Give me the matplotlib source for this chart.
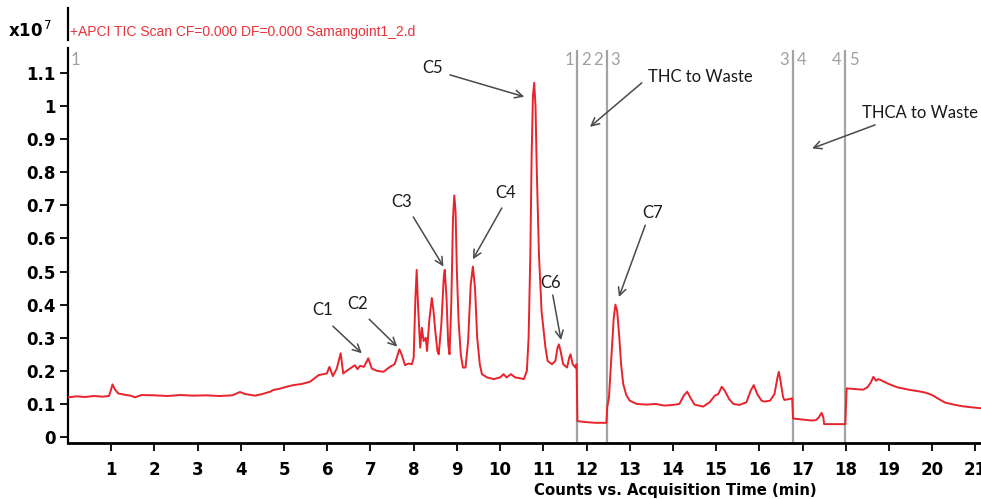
import matplotlib
matplotlib.use("Agg")
import matplotlib.pyplot as plt

# ---- data (time in min, counts in units of 1e7) ----
time = [0.0, 0.2, 0.4, 0.6, 0.8, 0.95, 1.0, 1.03, 1.08, 1.16, 1.3, 1.45, 1.55, 1.7, 2.0, 2.3, 2.6, 2.9,
        3.2, 3.5, 3.8, 3.98, 4.1, 4.33, 4.5, 4.68, 4.75, 4.9, 5.06, 5.22, 5.4, 5.6, 5.8, 5.99, 6.05, 6.13,
        6.22, 6.31, 6.37, 6.45, 6.53, 6.64, 6.7, 6.76, 6.85, 6.95, 7.03, 7.15, 7.3, 7.45, 7.56, 7.67, 7.72,
        7.8, 7.88, 7.96, 8.0, 8.04, 8.07, 8.1, 8.15, 8.19, 8.23, 8.28, 8.31, 8.36, 8.42, 8.46, 8.5, 8.55,
        8.58, 8.64, 8.7, 8.72, 8.76, 8.8, 8.83, 8.87, 8.91, 8.94, 8.97, 9.0, 9.04, 9.09, 9.14, 9.2, 9.26,
        9.32, 9.37, 9.42, 9.47, 9.53, 9.58, 9.7, 9.85, 10.0, 10.08, 10.15, 10.25, 10.35, 10.45, 10.55,
        10.62, 10.66, 10.7, 10.73, 10.76, 10.79, 10.82, 10.85, 10.9, 10.96, 11.0, 11.05, 11.1, 11.2,
        11.28, 11.33, 11.36, 11.4, 11.46, 11.55, 11.6, 11.63, 11.68, 11.74, 11.77,
        11.79, 12.0, 12.2, 12.46,
        12.48, 12.52, 12.58, 12.63, 12.67, 12.71, 12.76, 12.8, 12.85, 12.92, 13.0, 13.16, 13.4, 13.6,
        13.8, 14.0, 14.15, 14.25, 14.33, 14.4, 14.5, 14.7, 14.85, 14.97, 15.05, 15.13, 15.2, 15.3, 15.4,
        15.54, 15.7, 15.8, 15.87, 15.95, 16.05, 16.12, 16.25, 16.35, 16.42, 16.45, 16.49, 16.55, 16.58,
        16.7, 16.76,
        16.78, 17.0, 17.2, 17.31, 17.38, 17.44, 17.48, 17.5, 17.7, 17.99,
        18.02, 18.2, 18.4, 18.5, 18.58, 18.64, 18.7, 18.75, 18.81, 19.0, 19.2, 19.31, 19.5, 19.7, 19.85,
        20.0, 20.15, 20.3, 20.5, 20.7, 20.9, 21.13]
counts = [0.120, 0.123, 0.121, 0.124, 0.122, 0.124, 0.145, 0.159, 0.145, 0.132, 0.128, 0.125, 0.120,
          0.127, 0.126, 0.124, 0.127, 0.125, 0.126, 0.124, 0.126, 0.136, 0.130, 0.125, 0.130, 0.137,
          0.142, 0.146, 0.152, 0.157, 0.160, 0.167, 0.187, 0.192, 0.212, 0.184, 0.207, 0.253, 0.192,
          0.200, 0.207, 0.217, 0.205, 0.215, 0.212, 0.238, 0.207, 0.200, 0.197, 0.212, 0.220, 0.265,
          0.250, 0.217, 0.222, 0.220, 0.240, 0.420, 0.505, 0.400, 0.270, 0.330, 0.290, 0.300, 0.260,
          0.350, 0.420, 0.380, 0.320, 0.260, 0.250, 0.340, 0.490, 0.505, 0.420, 0.280, 0.250, 0.400,
          0.660, 0.730, 0.680, 0.500, 0.350, 0.250, 0.210, 0.210, 0.290, 0.460, 0.515, 0.450, 0.300,
          0.220, 0.190, 0.180, 0.175, 0.180, 0.190, 0.180, 0.190, 0.180, 0.178, 0.175, 0.200, 0.300,
          0.550, 0.850, 1.030, 1.070, 1.000, 0.800, 0.550, 0.380, 0.330, 0.270, 0.230, 0.220, 0.230,
          0.270, 0.280, 0.260, 0.220, 0.210, 0.240, 0.250, 0.220, 0.210, 0.220,
          0.048, 0.045, 0.043, 0.043,
          0.090, 0.120, 0.250, 0.360, 0.400, 0.380, 0.300, 0.220, 0.160, 0.127, 0.110, 0.100, 0.098,
          0.100, 0.095, 0.097, 0.100, 0.125, 0.137, 0.120, 0.098, 0.092, 0.105, 0.125, 0.130, 0.152,
          0.140, 0.115, 0.100, 0.097, 0.105, 0.140, 0.157, 0.130, 0.110, 0.107, 0.110, 0.130, 0.180,
          0.197, 0.170, 0.120, 0.112, 0.115, 0.117,
          0.056, 0.053, 0.050, 0.051, 0.060, 0.073, 0.060, 0.039, 0.039, 0.039,
          0.147, 0.145, 0.143, 0.150, 0.165, 0.182, 0.170, 0.175, 0.172, 0.160, 0.150, 0.147, 0.142,
          0.138, 0.134, 0.127, 0.115, 0.104, 0.098, 0.093, 0.090, 0.087]

segment_times = [11.77, 12.47, 16.77, 17.99]
x_ticks = list(range(1, 22))
y_ticks = [0, 0.1, 0.2, 0.3, 0.4, 0.5, 0.6, 0.7, 0.8, 0.9, 1.0, 1.1]
y_tick_labels = ["0", "0.1", "0.2", "0.3", "0.4", "0.5", "0.6", "0.7", "0.8", "0.9", "1", "1.1"]
title = "+APCI TIC Scan CF=0.000 DF=0.000 Samangoint1_2.d"
x_label = "Counts vs. Acquisition Time (min)"

tick_font = ["DejaVu Sans Condensed", "Liberation Sans Narrow", "DejaVu Sans"]
title_font = ["Liberation Sans", "DejaVu Sans"]
ann_font = "Lato"

fig = plt.figure(figsize=(9.81, 4.99), dpi=100)
ax = fig.add_axes([68 / 981, 1 - 443 / 499, 1 - 68 / 981, (443 - 13) / 499])
ax.set_xlim(0, 21.13)
ax.set_ylim(-0.018, 1.281)

ax.plot(time, counts, color="#e8232b", lw=1.4, zorder=3)
ax.vlines(segment_times, -0.018, 1.169, color="#a3a3a3", lw=1.6, zorder=2)

for s in ["top", "right"]:
    ax.spines[s].set_visible(False)
ax.spines["bottom"].set_linewidth(2.0)
ax.spines["left"].set_linewidth(1.6)
ax.spines["left"].set_bounds(-0.018, 1.175)
ax.plot([0, 0], [1.2, 1.295], color="black", lw=1.6, clip_on=False, transform=ax.transData)

ax.set_xticks(x_ticks)
ax.set_xticklabels([str(v) for v in x_ticks], fontfamily=tick_font, fontweight="bold", fontsize=12)
ax.set_yticks(y_ticks)
ax.set_yticklabels(y_tick_labels, fontfamily=tick_font, fontweight="bold", fontsize=12)
ax.tick_params(axis="both", direction="out", length=6, width=1.3, colors="black")
ax.tick_params(axis="x", pad=7)
ax.tick_params(axis="y", pad=3)

fig.text(675 / 981, 1 - 490 / 499, x_label, ha="center", va="center",
         fontfamily=tick_font, fontweight="bold", fontsize=10.7)
fig.text(8 / 981, 1 - 31 / 499, r"x10$^{\,7}$", ha="left", va="center",
         fontfamily=tick_font, fontweight="bold", fontsize=12)
ax.text(0.05, 1.225, title, ha="left", va="center", color="#e8333a", fontsize=10,
        fontfamily=title_font)

# segment labels
seg_labels = [(0.16, "1"), (11.6, "1"), (11.98, "2"), (12.27, "2"), (12.66, "3"),
              (16.58, "3"), (16.97, "4"), (17.78, "4"), (18.2, "5")]
for xs, lab in seg_labels:
    ax.text(xs, 1.139, lab, ha="center", va="center", color="#a0a0a0", fontsize=12,
            fontfamily=ann_font)

# annotations: (label, text pos, arrow tail, arrow head)
annots = [
    ("C1", (5.88, 0.384), (6.13, 0.335), (6.80, 0.253)),
    ("C2", (6.71, 0.402), (6.97, 0.356), (7.62, 0.273)),
    ("C3", (7.73, 0.710), (7.99, 0.665), (8.69, 0.515)),
    ("C4", (10.12, 0.737), (10.04, 0.692), (9.37, 0.537)),
    ("C5", (8.43, 1.115), (8.84, 1.094), (10.56, 1.028)),
    ("C6", (11.16, 0.465), (11.22, 0.429), (11.41, 0.293)),
    ("C7", (13.52, 0.677), (13.36, 0.640), (12.75, 0.423)),
    ("THC to Waste", (14.63, 1.088), (13.28, 1.070), (12.08, 0.937)),
    ("THCA to Waste", (19.72, 0.979), (18.68, 0.943), (17.22, 0.872)),
]
for lab, tp, tail, head in annots:
    ax.text(tp[0], tp[1], lab, ha="center", va="center", fontsize=12, color="#1a1a1a",
            fontfamily=ann_font)
    ax.annotate("", xy=head, xytext=tail,
                arrowprops=dict(arrowstyle="->", color="#4a4a4a", lw=1.1,
                                shrinkA=0, shrinkB=0, mutation_scale=14))

fig.savefig("out.png", dpi=100)
